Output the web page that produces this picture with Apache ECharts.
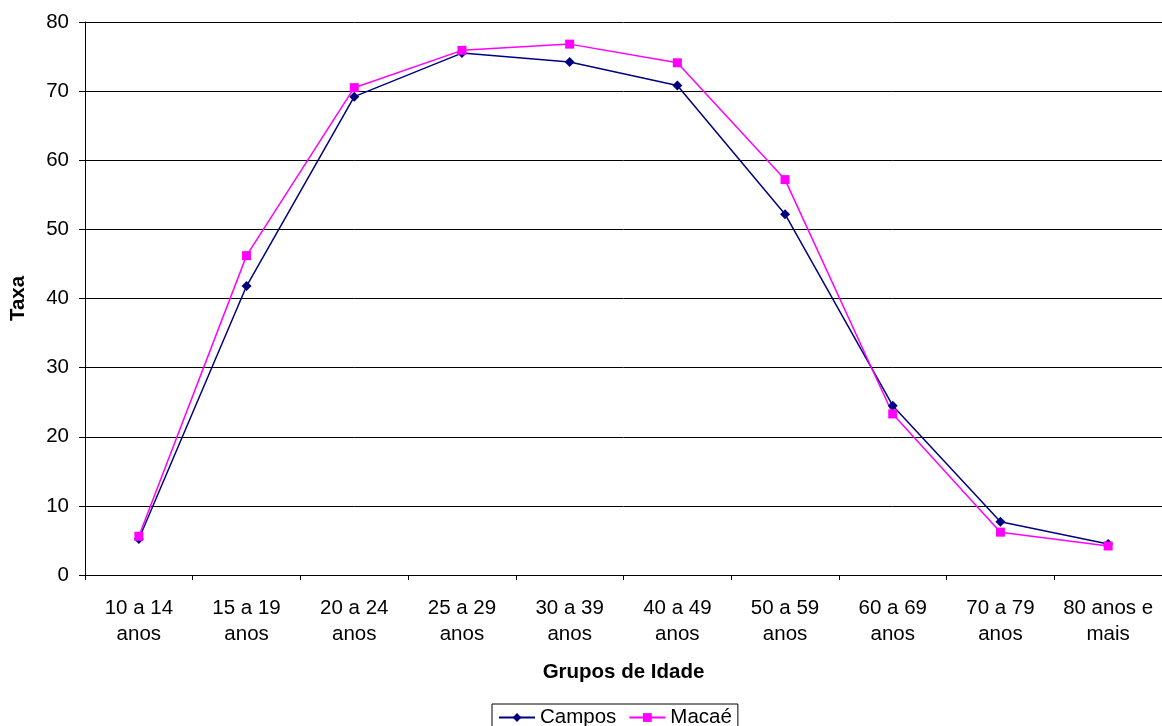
<!DOCTYPE html>
<html><head><meta charset="utf-8">
<script src="https://cdn.jsdelivr.net/npm/echarts@6/dist/echarts.min.js"></script>
<style>html,body{margin:0;padding:0;background:#fff}#c{width:1162px;height:726px}</style>
</head><body><div id="c"></div>
<script>
var categories = ['10 a 14\nanos','15 a 19\nanos','20 a 24\nanos','25 a 29\nanos','30 a 39\nanos','40 a 49\nanos','50 a 59\nanos','60 a 69\nanos','70 a 79\nanos','80 anos e\nmais'];
var campos = [5.2, 41.8, 69.2, 75.5, 74.2, 70.8, 52.2, 24.5, 7.7, 4.5];
var macae = [5.6, 46.2, 70.5, 75.9, 76.8, 74.1, 57.2, 23.3, 6.2, 4.2];
var yTicks = [0, 80, 10];

var chart = echarts.init(document.getElementById('c'));
var font = 'Liberation Sans, Arial, sans-serif';
var fs = 20.5;
chart.setOption({
  animation: false,
  textStyle: {fontFamily: font},
  grid: {left: 85, right: 0, top: 22, bottom: 151, containLabel: false, outerBoundsMode: 'none'},
  legend: {
    top: 704, left: 492,
    data: ['Campos', 'Macaé'],
    borderColor: '#000', borderWidth: 1, padding: [3, 6, 10, 6],
    itemWidth: 36, itemHeight: 11, itemGap: 12,
    textStyle: {fontSize: fs, color: '#000', fontFamily: font}
  },
  xAxis: {
    type: 'category', data: categories, boundaryGap: true,
    name: 'Grupos de Idade', nameLocation: 'middle', nameGap: 87,
    nameTextStyle: {fontSize: fs, fontWeight: 'bold', color: '#000'},
    axisLine: {lineStyle: {color: '#000', width: 1}},
    axisTick: {show: true, inside: false, length: 5, lineStyle: {color: '#000'}},
    axisLabel: {fontSize: fs, color: '#000', margin: 20, lineHeight: 26, interval: 0}
  },
  yAxis: {
    type: 'value', min: yTicks[0], max: yTicks[1], interval: yTicks[2],
    name: 'Taxa', nameLocation: 'middle', nameGap: 56, nameRotate: 90,
    nameTextStyle: {fontSize: fs, fontWeight: 'bold', color: '#000'},
    axisLine: {show: true, lineStyle: {color: '#000', width: 1}},
    axisTick: {show: true, length: 6, lineStyle: {color: '#000'}},
    axisLabel: {fontSize: fs, color: '#000', margin: 16},
    splitLine: {show: true, lineStyle: {color: '#000', width: 1}}
  },
  series: [
    {name: 'Campos', type: 'line', data: campos, symbol: 'diamond', symbolSize: 10,
     itemStyle: {color: '#000080'}, lineStyle: {color: '#000080', width: 1.5}},
    {name: 'Macaé', type: 'line', data: macae, symbol: 'rect', symbolSize: 9,
     itemStyle: {color: '#FF00FF'}, lineStyle: {color: '#FF00FF', width: 1.5}}
  ]
});
</script></body></html>
